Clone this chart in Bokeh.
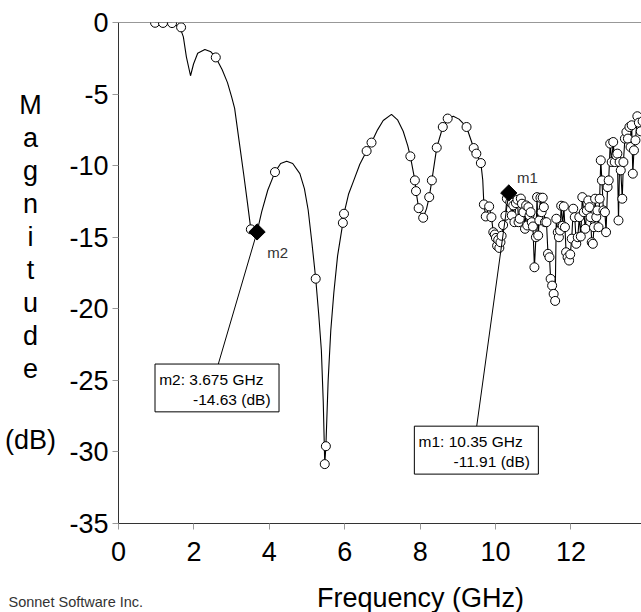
from bokeh.plotting import figure
from bokeh.models import SingleIntervalTicker, Span, BoxAnnotation, Label
from bokeh.layouts import column, row
from bokeh.embed import file_html
from bokeh.resources import INLINE

# ---- smooth (interpolated) response curve, 1-9.7 GHz ----
curve_freq = [0.97, 1.19, 1.41, 1.63, 1.72, 1.80, 1.91, 1.99, 2.10, 2.29, 2.45, 2.58,
              2.75, 2.89, 3.00, 3.08, 3.20, 3.32, 3.42, 3.51, 3.60, 3.675, 3.80, 3.96,
              4.15, 4.30, 4.46, 4.62, 4.81, 4.93, 5.03, 5.13, 5.23, 5.31, 5.38, 5.43,
              5.47, 5.50, 5.56, 5.63, 5.71, 5.81, 5.95, 5.98, 6.10, 6.23, 6.40, 6.58,
              6.71, 6.87, 7.02, 7.24, 7.40, 7.55, 7.67, 7.74, 7.86, 7.89, 7.96, 8.08,
              8.17, 8.24, 8.31, 8.44, 8.60, 8.73, 8.88, 9.03, 9.23, 9.42, 9.49, 9.61,
              9.66, 9.69]
curve_db = [-0.02, -0.03, -0.04, -0.34, -1.0, -2.4, -3.72, -2.9, -2.15, -1.88, -2.05, -2.44,
            -3.3, -4.2, -5.2, -6.0, -8.3, -10.6, -12.6, -14.45, -14.8, -14.63, -13.2, -11.7,
            -10.45, -9.85, -9.7, -9.85, -10.56, -11.6, -13.1, -15.4, -17.9, -20.4, -22.9, -26.5,
            -30.85, -29.6, -25.0, -21.5, -18.9, -16.3, -14.0, -13.36, -12.0, -11.1, -9.9, -8.98,
            -8.39, -7.5, -6.85, -6.42, -6.8, -7.6, -8.6, -9.35, -11.03, -11.78, -12.97, -13.64,
            -13.0, -12.2, -11.03, -8.74, -7.3, -6.71, -6.55, -6.75, -7.3, -8.77, -9.16, -9.82,
            -11.0, -12.71]

# ---- sampled points on the smooth part (circles) ----
sample_freq = [0.97, 1.18, 1.42, 1.66, 2.58, 3.51, 4.15, 5.23, 5.47, 5.50, 5.95, 5.98,
               6.58, 6.71, 7.74, 7.86, 7.89, 7.96, 8.08, 8.24, 8.31, 8.44, 8.60, 8.73,
               9.23, 9.42, 9.49, 9.61]
sample_db = [-0.02, -0.03, -0.04, -0.34, -2.44, -14.45, -10.45, -17.9, -30.85, -29.6, -14.0, -13.36,
             -8.98, -8.39, -9.35, -11.03, -11.78, -12.97, -13.64, -12.2, -11.03, -8.74, -7.3, -6.71,
             -7.3, -8.77, -9.16, -9.82]

# ---- densely sampled, noisy part above ~9.7 GHz (line + circles) ----
noisy_freq = [9.69, 9.74, 9.83, 9.89, 9.94, 9.98, 10.01, 10.04, 10.07, 10.10, 10.13, 10.16,
              10.20, 10.26, 10.30, 10.35, 10.39, 10.43, 10.47, 10.50, 10.54, 10.58, 10.61, 10.64,
              10.67, 10.70, 10.74, 10.78, 10.81, 10.84, 10.87, 10.90, 10.93, 10.96, 10.99, 11.03,
              11.07, 11.10, 11.13, 11.16, 11.19, 11.22, 11.25, 11.28, 11.31, 11.35, 11.39, 11.43,
              11.46, 11.50, 11.54, 11.58, 11.61, 11.65, 11.68, 11.71, 11.74, 11.78, 11.81, 11.84,
              11.87, 11.91, 11.95, 11.98, 12.02, 12.06, 12.10, 12.14, 12.18, 12.22, 12.26, 12.30,
              12.34, 12.38, 12.42, 12.46, 12.49, 12.52, 12.55, 12.58, 12.61, 12.64, 12.67, 12.70,
              12.73, 12.76, 12.79, 12.82, 12.86, 12.90, 12.93, 12.97, 13.00, 13.04, 13.08, 13.12,
              13.16, 13.20, 13.23, 13.26, 13.29, 13.32, 13.36, 13.39, 13.43, 13.47, 13.51, 13.55,
              13.58, 13.61, 13.64, 13.67, 13.71, 13.76, 13.80, 13.85, 13.90]
noisy_db = [-12.71, -13.55, -12.85, -13.60, -14.65, -14.81, -15.05, -15.60, -15.18, -15.75, -15.35, -14.90,
            -14.15, -13.50, -12.30, -11.91, -12.55, -13.48, -12.78, -13.95, -12.62, -12.38, -13.95, -13.71,
            -12.30, -12.66, -13.25, -14.41, -12.78, -14.18, -12.90, -13.48, -13.25, -13.95, -14.25, -17.10,
            -15.00, -12.20, -14.88, -13.83, -12.24, -13.25, -12.24, -12.90, -13.95, -13.95, -16.16, -16.40,
            -17.91, -18.38, -18.96, -19.45, -13.71, -14.65, -15.00, -14.53, -12.80, -14.20, -12.85, -14.30,
            -16.05, -16.40, -16.63, -16.20, -15.10, -13.01, -13.60, -15.46, -15.00, -13.60, -14.95, -12.20,
            -13.25, -14.41, -13.13, -12.43, -12.90, -13.60, -15.35, -15.46, -14.30, -12.31, -13.60, -13.13,
            -14.30, -12.31, -9.63, -11.03, -13.13, -13.25, -14.65, -11.50, -11.03, -8.46, -9.75, -8.35,
            -9.75, -9.28, -9.16, -13.83, -9.75, -10.33, -12.31, -9.75, -8.11, -7.65, -8.11, -7.30,
            -8.70, -7.18, -10.56, -8.93, -8.23, -6.55, -7.0, -7.6, -6.9]

# ---- markers ----
marker_names = ["m2", "m1"]
marker_freq = [3.675, 10.35]
marker_db = [-14.63, -11.91]
marker_line1 = ["m2: 3.675 GHz", "m1: 10.35 GHz"]
marker_line2 = ["-14.63  (dB)", "-11.91  (dB)"]

x_ticks = [0, 2, 4, 6, 8, 10, 12]
y_ticks = [0, -5, -10, -15, -20, -25, -30, -35]

x_title = "Frequency (GHz)"
y_title_letters = ["M", "a", "g", "n", "i", "t", "u", "d", "e"]
y_title_unit = "(dB)"
credit = "Sonnet Software Inc."

FONT = "Liberation Sans"
BIG = "27px"

# ---------------- main plot ----------------
p = figure(width=581, height=570, x_range=(0, 13.87), y_range=(-35, 0),
           output_backend="svg", toolbar_location=None,
           min_border_left=58, min_border_right=0, min_border_top=22, min_border_bottom=47)
p.outline_line_color = None
p.grid.visible = False
p.background_fill_color = "white"
p.border_fill_color = "white"

p.xaxis.ticker = SingleIntervalTicker(interval=2, num_minor_ticks=0)
p.yaxis.ticker = SingleIntervalTicker(interval=5, num_minor_ticks=0)
p.xaxis.major_label_overrides = {t: str(t) for t in x_ticks}
p.yaxis.major_label_overrides = {t: str(t) for t in y_ticks}
for ax in (p.xaxis[0], p.yaxis[0]):
    ax.axis_line_color = "#333333"
    ax.axis_line_width = 1
    ax.major_tick_line_color = "#999999"
    ax.major_tick_out = 6
    ax.major_tick_in = 0
    ax.minor_tick_line_color = None
    ax.major_label_text_font = FONT
    ax.major_label_text_font_size = BIG
    ax.major_label_text_color = "black"
p.xaxis.major_label_standoff = 12
p.yaxis.major_label_standoff = 4

# frame top line
p.add_layout(Span(location=0, dimension="width", line_color="#333333", line_width=1))

# curves
p.line(curve_freq, curve_db, line_color="black", line_width=1.1)
p.line(noisy_freq, noisy_db, line_color="black", line_width=1.1)
p.scatter(sample_freq, sample_db, marker="circle", size=9, fill_color="white",
          line_color="black", line_width=1)
p.scatter(noisy_freq, noisy_db, marker="circle", size=9, fill_color="white",
          line_color="black", line_width=1)

# marker info boxes
box_left = [0.968, 7.846]
box_right = [4.257, 11.135]
box_top = [-23.86, -28.2]
box_bottom = [-27.2, -31.55]
lead_x = [2.647, 9.50]
p.segment(x0=lead_x, y0=box_top, x1=marker_freq, y1=marker_db, line_color="black", line_width=1)
for i in range(2):
    p.add_layout(BoxAnnotation(left=box_left[i], right=box_right[i], top=box_top[i],
                               bottom=box_bottom[i], fill_color="white", fill_alpha=1.0,
                               line_color="black", line_width=1, line_alpha=1.0))
    p.add_layout(Label(x=box_left[i] + 0.11, y=box_top[i] - 1.05, text=marker_line1[i],
                       text_font=FONT, text_font_size="15.5px", text_baseline="middle",
                       text_align="left", text_color="black"))
    p.add_layout(Label(x=box_right[i] - 0.11, y=box_top[i] - 2.45, text=marker_line2[i],
                       text_font=FONT, text_font_size="15.5px", text_baseline="middle",
                       text_align="right", text_color="black"))

p.scatter(marker_freq, marker_db, marker="square", angle=0.785398, size=11.5,
          fill_color="black", line_color="black")
name_dx = [0.27, 0.22]
name_dy = [-1.46, 1.11]
for i in range(2):
    p.add_layout(Label(x=marker_freq[i] + name_dx[i], y=marker_db[i] + name_dy[i],
                       text=marker_names[i], text_font=FONT, text_font_size="15px",
                       text_baseline="middle", text_align="left", text_color="#333333"))

# ---------------- left strip: stacked y title ----------------
# its frame is aligned with the main frame (page y 22..523), so the range is in page pixels
pl = figure(width=60, height=570, x_range=(0, 60), y_range=(523, 22),
            output_backend="svg", toolbar_location=None,
            x_axis_type=None, y_axis_type=None, min_border=0)
pl.outline_line_color = None
pl.grid.visible = False
letter_y = [104, 137, 170, 203, 236, 269, 302, 335, 368]
for ch, yy in zip(y_title_letters, letter_y):
    pl.add_layout(Label(x=30, y=yy, text=ch, text_font=FONT, text_font_size=BIG,
                        text_baseline="middle", text_align="center", text_color="black"))
pl.add_layout(Label(x=30, y=439, text=y_title_unit, text_font=FONT, text_font_size=BIG,
                    text_baseline="middle", text_align="center", text_color="black"))

# ---------------- bottom strip: x title and credit ----------------
pb = figure(width=641, height=42, x_range=(0, 641), y_range=(0, 42),
            output_backend="svg", toolbar_location=None,
            x_axis_type=None, y_axis_type=None, min_border=0)
pb.outline_line_color = None
pb.grid.visible = False
pb.add_layout(Label(x=420, y=15, text=x_title, text_font=FONT, text_font_size=BIG,
                    text_baseline="middle", text_align="center", text_color="black"))
pb.add_layout(Label(x=8, y=11, text=credit, text_font=FONT, text_font_size="14.5px",
                    text_baseline="middle", text_align="left", text_color="#333333"))

layout = column(row(pl, p), pb)
open("out.html", "w").write(file_html(layout, INLINE))
